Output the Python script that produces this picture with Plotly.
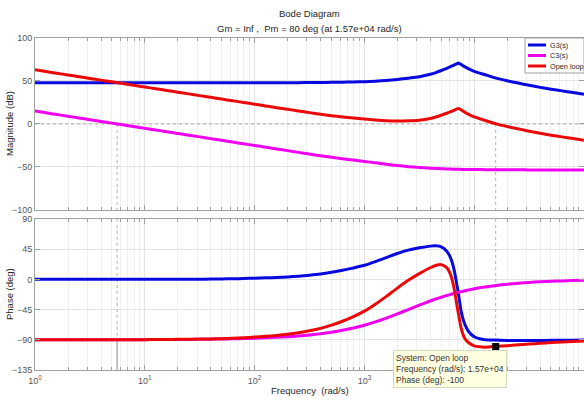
import plotly.graph_objects as go
from plotly.subplots import make_subplots

# ---------------- data ----------------
# frequency points, as powers of ten (rad/s)
log_freq = [0.0, 0.1, 0.2, 0.3, 0.4, 0.5, 0.6, 0.7, 0.8, 0.9,
            1.0, 1.1, 1.2, 1.3, 1.4, 1.5, 1.6, 1.7, 1.8, 1.9,
            2.0, 2.1, 2.2, 2.3, 2.4, 2.5, 2.6, 2.7, 2.8, 2.9,
            3.0, 3.1, 3.2, 3.3, 3.4, 3.5, 3.6, 3.65, 3.7, 3.75,
            3.78, 3.8, 3.82, 3.84, 3.855, 3.87, 3.88, 3.9, 3.92, 3.95,
            4.0, 4.05, 4.1, 4.2, 4.3, 4.4, 4.5, 4.6, 4.7, 4.8,
            4.9, 5.0]
freq = [10 ** e for e in log_freq]

g3_mag = [48, 48, 48, 48, 48, 48, 48, 48, 48, 48,
          48, 48, 48, 48, 48, 48, 48, 48, 48, 48,
          48, 48, 48, 48.1, 48.1, 48.2, 48.3, 48.4, 48.6, 48.9,
          49.2, 49.8, 50.6, 51.8, 53.3, 55.0, 57.8, 59.8, 62.2, 64.8,
          66.5, 67.6, 68.8, 70.0, 70.8, 70.0, 69.3, 67.6, 66.1, 64.0,
          61.2, 59.1, 57.2, 53.3, 50.3, 47.6, 45.0, 42.6, 40.4, 38.5,
          36.6, 34.7]
c3_mag = [15, 13, 11, 9, 7, 5, 3, 1, -1, -3,
          -5, -7, -9, -11, -13, -15, -17, -19, -21, -23,
          -25, -27, -29, -31, -33, -35, -36.9, -38.7, -40.4, -42,
          -43.5, -45.2, -46.8, -48.3, -49.6, -50.6, -51.4, -51.7, -52.0, -52.3,
          -52.4, -52.5, -52.6, -52.6, -52.7, -52.7, -52.8, -52.8, -52.9, -52.9,
          -53.0, -53.0, -53.1, -53.2, -53.3, -53.3, -53.4, -53.4, -53.4, -53.5,
          -53.5, -53.5]
ol_mag = [63, 61, 59, 57, 55, 53, 51, 49, 47, 45,
          43, 41, 39, 37, 35, 33, 31, 29, 27, 25,
          23, 21, 19, 17.1, 15.1, 13.2, 11.4, 9.7, 8.2, 6.9,
          5.7, 4.6, 3.8, 3.5, 3.7, 4.4, 6.4, 8.1, 10.2, 12.5,
          14.1, 15.1, 16.2, 17.4, 18.1, 17.3, 16.5, 14.8, 13.2, 11.1,
          8.2, 6.1, 4.1, 0.1, -3.0, -5.7, -8.4, -10.8, -13.0, -15.0,
          -16.9, -18.8]

g3_ph = [0, 0, 0, 0, 0, 0, 0, 0, 0, 0,
         0, 0.1, 0.1, 0.2, 0.2, 0.3, 0.4, 0.6, 0.9, 1.3,
         1.8, 2.3, 2.9, 3.7, 4.8, 6.2, 8.0, 10.5, 13.5, 17,
         21, 26.5, 32.5, 38.5, 43.5, 47, 49.5, 50, 48.5, 42,
         34, 25, 12, -6, -20, -36, -47, -60, -69, -78,
         -85.5, -88.5, -89.8, -90.5, -91, -91, -91, -91, -90.8, -90.7,
         -90.6, -90.5]
c3_ph = [-90, -90, -90, -90, -90, -90, -90, -90, -90, -89.8,
         -89.8, -89.7, -89.6, -89.5, -89.4, -89.3, -89.1, -88.9, -88.6, -88.2,
         -87.7, -87.1, -86.4, -85.5, -84.3, -82.8, -81, -78.7, -75.9, -72.5,
         -68.3, -63.4, -57.8, -51.5, -45, -38.5, -32.2, -29.3, -26.6, -24.1,
         -22.7, -21.7, -20.8, -20.0, -19.4, -18.8, -18.4, -17.6, -16.9, -15.8,
         -14.1, -12.6, -11.3, -9.0, -7.2, -5.7, -4.5, -3.6, -2.9, -2.3,
         -1.8, -1.4]
ol_ph = [-90, -90, -90, -90, -90, -90, -90, -90, -90, -89.8,
         -89.8, -89.6, -89.5, -89.3, -89.2, -89.0, -88.7, -88.3, -87.7, -86.9,
         -85.9, -84.8, -83.5, -81.8, -79.5, -76.6, -73, -68.2, -62.4, -55.5,
         -47.3, -36.9, -25.3, -13, -1.5, 8.5, 17.3, 20.7, 21.9, 17.5,
         9, -1, -16, -36, -50, -64, -72, -83, -89.5, -94.5,
         -99, -100.5, -101, -100, -98.8, -97.5, -96.3, -95.2, -94.2, -93.3,
         -92.5, -91.8]

series_names = ["G3(s)", "C3(s)", "Open loop"]
series_colors = ["rgb(8,8,225)", "rgb(240,0,240)", "rgb(235,8,8)"]

x_tickvals = [1, 10, 100, 1000, 10000, 100000]
x_ticktext = ["10<sup>0</sup>", "10<sup>1</sup>", "10<sup>2</sup>", "10<sup>3</sup>",
              "10<sup>4</sup>", "10<sup>5</sup>"]
mag_ticks = [-100, -50, 0, 50, 100]
ph_ticks = [-135, -90, -45, 0, 45, 90]

# margin markers
c3_cross_freq = 5.6
pm_freq = 15700
pm_phase = -100
title1 = "Bode Diagram"
title2 = "Gm = Inf ,\u00a0 Pm = 80 deg (at 1.57e+04 rad/s)"
tip_text = "System: Open loop<br>Frequency (rad/s): 1.57e+04<br>Phase (deg): -100"

# ---------------- figure ----------------
fig = make_subplots(rows=2, cols=1, shared_xaxes=True)

minor_vals = []
for dec in [1, 10, 100, 1000, 10000]:
    for m in range(2, 10):
        minor_vals.append(dec * m)

GRID = "#e3e3e3"
MINOR = "#efefef"
AX = "#a0a0a0"
TICKF = dict(family="Liberation Sans, Arial", size=9, color="#555555")
DOT = dict(color="#b0b0b0", width=1, dash="dot")


def vline(x, y, row, line):
    fig.add_trace(go.Scatter(x=x, y=y, mode="lines", line=line, hoverinfo="skip",
                             showlegend=False), row=row, col=1)


# margin lines (behind data)
vline([c3_cross_freq, c3_cross_freq], [0, -100], 1, DOT)
vline([pm_freq, pm_freq], [0, -100], 1, DOT)
vline([freq[0], freq[-1]], [0, 0], 1, DOT)
vline([c3_cross_freq, c3_cross_freq], [90, -90], 2, DOT)
vline([c3_cross_freq, c3_cross_freq], [-90, -135], 2, dict(color="#8a8a8a", width=1))
vline([pm_freq, pm_freq], [90, pm_phase], 2, DOT)

mags = [g3_mag, c3_mag, ol_mag]
phs = [g3_ph, c3_ph, ol_ph]
for name, col, m in zip(series_names, series_colors, mags):
    fig.add_trace(go.Scatter(x=freq, y=m, mode="lines", name=name,
                             line=dict(color=col, width=3, shape="spline", smoothing=0.6),
                             showlegend=False), row=1, col=1)
for name, col, p in zip(series_names, series_colors, phs):
    fig.add_trace(go.Scatter(x=freq, y=p, mode="lines", name=name,
                             line=dict(color=col, width=3, shape="spline", smoothing=0.6),
                             showlegend=False), row=2, col=1)

# datatip line and marker
vline([pm_freq, pm_freq], [pm_phase, -135], 2, dict(color="black", width=1))
fig.add_trace(go.Scatter(x=[pm_freq], y=[pm_phase], mode="markers",
                         marker=dict(symbol="square", size=7, color="black"),
                         showlegend=False), row=2, col=1)

xcommon = dict(type="log", range=[0, 5], tickvals=x_tickvals, ticktext=x_ticktext,
               showgrid=True, gridcolor=GRID, gridwidth=1, zeroline=False,
               showline=True, linecolor=AX, linewidth=1, mirror="ticks",
               ticks="inside", ticklen=5, tickcolor=AX, tickfont=TICKF,
               minor=dict(tickvals=minor_vals, showgrid=True, gridcolor=MINOR,
                          ticks="inside", ticklen=3, tickcolor=AX))
fig.update_xaxes(**xcommon)
fig.update_xaxes(showticklabels=False, row=1, col=1)
fig.update_xaxes(showticklabels=True, ticklabelstandoff=2, row=2, col=1)

ycommon = dict(showgrid=True, gridcolor=GRID, zeroline=False, showline=True,
               linecolor=AX, linewidth=1, mirror="ticks", ticks="inside", ticklen=5,
               tickcolor=AX, tickfont=TICKF)
fig.update_yaxes(range=[-100, 100], tickvals=mag_ticks, domain=[0.482, 1.0],
                 **ycommon, row=1, col=1)
fig.update_yaxes(range=[-135, 90], tickvals=ph_ticks, domain=[0.0, 0.455],
                 **ycommon, row=2, col=1)

W, H = 584, 400
ML, MR, MT, MB = 35, 0, 38, 30
PW, PH = W - ML - MR, H - MT - MB


def px(x):
    return (x - ML) / PW


def py(y):
    return (H - MB - y) / PH


ann = []
TF = dict(family="Liberation Sans, Arial", size=9.5, color="#262626")
ann.append(dict(text=title1, x=0.5, y=py(14), xref="paper", yref="paper",
                showarrow=False, font=TF, xanchor="center", yanchor="middle"))
ann.append(dict(text=title2, x=0.5, y=py(28), xref="paper", yref="paper",
                showarrow=False, font=TF, xanchor="center", yanchor="middle"))
ann.append(dict(text="Magnitude (dB)", x=px(9), y=py(124), xref="paper", yref="paper",
                showarrow=False, font=TF, textangle=-90, xanchor="center", yanchor="middle"))
ann.append(dict(text="Phase (deg)", x=px(9), y=py(294), xref="paper", yref="paper",
                showarrow=False, font=TF, textangle=-90, xanchor="center", yanchor="middle"))
ann.append(dict(text="Frequency\u00a0 (rad/s)", x=0.5, y=py(391), xref="paper", yref="paper",
                showarrow=False, font=TF, xanchor="center", yanchor="middle"))
ann.append(dict(text=tip_text, x=px(393), y=py(350), xref="paper", yref="paper",
                showarrow=False, align="left", xanchor="left", yanchor="top",
                font=dict(family="Liberation Sans, Arial", size=8.5, color="#333333"),
                bgcolor="rgb(255,255,225)", bordercolor="#d8d8c0", borderwidth=1,
                borderpad=2))

# custom legend
shapes = [dict(type="rect", xref="paper", yref="paper", x0=px(525), x1=px(584),
               y0=py(73), y1=py(38), fillcolor="white", line=dict(color="#a0a0a0", width=1),
               layer="above")]
leg_y = [45, 55.5, 66]
for name, col, ly in zip(series_names, series_colors, leg_y):
    shapes.append(dict(type="line", xref="paper", yref="paper", x0=px(528), x1=px(546),
                       y0=py(ly), y1=py(ly), line=dict(color=col, width=3), layer="above"))
    ann.append(dict(text=name, x=px(548), y=py(ly), xref="paper", yref="paper",
                    showarrow=False, xanchor="left", yanchor="middle",
                    font=dict(family="Liberation Sans, Arial", size=7.3, color="#262626")))

fig.update_layout(width=W, height=H, margin=dict(l=ML, r=MR, t=MT, b=MB),
                  plot_bgcolor="white", paper_bgcolor="white", showlegend=False,
                  hovermode=False, annotations=ann, shapes=shapes)

fig.write_html("out.html", config={"displayModeBar": False},
               post_script="document.body.style.margin='0';document.body.style.overflow='hidden';")
